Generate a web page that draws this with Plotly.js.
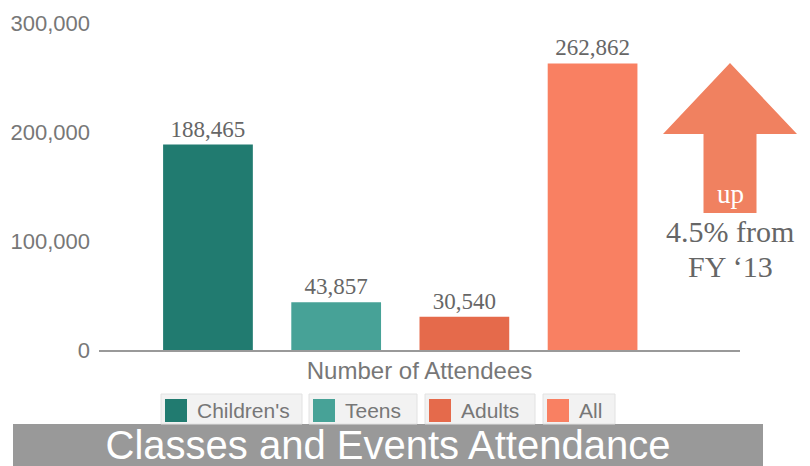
<!DOCTYPE html>
<html>
<head>
<meta charset="utf-8">
<script src="https://cdn.plot.ly/plotly-3.0.1.min.js"></script>
<style>html,body{margin:0;padding:0;background:#fff;}#chart{width:810px;height:466px;}</style>
</head>
<body>
<div id="chart"></div>
<script>
// ---- data ----
const categories = ["Children's", "Teens", "Adults", "All"];
const values = [188465, 43857, 30540, 262862];
const colors = ["#217b70", "#47a297", "#e56a4b", "#f98062"];
const groupLabel = "Number of Attendees";
const yTicks = [0, 100000, 200000, 300000];
const chartTitle = "Classes and Events Attendance";
const noteUp = "up";
const noteLines = ["4.5% from", "FY \u201813"];

// ---- layout helpers (pixel -> paper) ----
const W = 810, H = 466;
const M = {l: 99, r: 70, t: 23, b: 116};
const PW = W - M.l - M.r, PH = H - M.t - M.b;
const px = x => (x - M.l) / PW;
const py = y => (H - M.b - y) / PH;

const traces = categories.map((c, i) => ({
  type: 'bar',
  name: c,
  x: [groupLabel],
  y: [values[i]],
  marker: {color: colors[i]},
  text: [values[i].toLocaleString('en-US')],
  textposition: 'outside',
  textfont: {family: 'Liberation Serif, serif', size: 23, color: '#666666'},
  cliponaxis: false,
  hoverinfo: 'none',
  showlegend: false
}));

const shapes = [];
const annotations = [];

// title bar
shapes.push({type: 'rect', xref: 'paper', yref: 'paper', layer: 'below',
  x0: px(13), x1: px(763), y0: py(466), y1: py(424),
  fillcolor: '#999999', line: {width: 0}});

// arrow
const arrowPath = 'M' + px(730) + ',' + py(63) +
  ' L' + px(797) + ',' + py(134) +
  ' L' + px(756.5) + ',' + py(134) +
  ' L' + px(756.5) + ',' + py(213) +
  ' L' + px(703.5) + ',' + py(213) +
  ' L' + px(703.5) + ',' + py(134) +
  ' L' + px(663) + ',' + py(134) + ' Z';
shapes.push({type: 'path', xref: 'paper', yref: 'paper', path: arrowPath,
  fillcolor: '#f08160', line: {width: 0}});
annotations.push({xref: 'paper', yref: 'paper', x: px(730), y: py(194), text: noteUp,
  showarrow: false, font: {family: 'Liberation Serif, serif', size: 27, color: '#ffffff'},
  xanchor: 'center', yanchor: 'middle'});
noteLines.forEach((t, i) => annotations.push({xref: 'paper', yref: 'paper', x: px(730),
  y: py(231 + i * 35), text: t, showarrow: false,
  font: {family: 'Liberation Serif, serif', size: 30, color: '#666666'},
  xanchor: 'center', yanchor: 'middle'}));

// legend boxes (manual)
const legBoxes = [[161, 302], [309, 417], [425, 535], [543, 615]];
categories.forEach((c, i) => {
  const [b0, b1] = legBoxes[i];
  shapes.push({type: 'rect', xref: 'paper', yref: 'paper', layer: 'below',
    x0: px(b0), x1: px(b1), y0: py(424), y1: py(394),
    fillcolor: '#f2f2f2', line: {color: '#e2e2e2', width: 1}});
  shapes.push({type: 'rect', xref: 'paper', yref: 'paper',
    x0: px(b0 + 4), x1: px(b0 + 26), y0: py(422), y1: py(399),
    fillcolor: colors[i], line: {width: 0}});
  annotations.push({xref: 'paper', yref: 'paper', x: px(b0 + 34), y: py(410.5), text: c,
    showarrow: false, xanchor: 'left', yanchor: 'middle',
    font: {family: 'Liberation Sans, Arial, sans-serif', size: 21, color: '#777777'}});
});

const layout = {
  width: W, height: H,
  margin: M,
  paper_bgcolor: '#ffffff', plot_bgcolor: '#ffffff',
  showlegend: false,
  barmode: 'group', bargap: 0.2, bargroupgap: 0.3,
  title: {text: chartTitle, x: 388 / W, xanchor: 'center', y: 1 - 445 / H, yanchor: 'middle',
    font: {family: 'Liberation Sans, Arial, sans-serif', size: 40, color: '#ffffff'}},
  xaxis: {type: 'category', range: [-0.47, 0.53], showticklabels: false, ticks: '',
    showline: true, linecolor: '#999999', linewidth: 2, showgrid: false, zeroline: false,
    fixedrange: true,
    title: {text: groupLabel, standoff: 11,
      font: {family: 'Liberation Sans, Arial, sans-serif', size: 24, color: '#777777'}}},
  yaxis: {range: [0, 300000], tickvals: yTicks, tickformat: ',', showgrid: false,
    zeroline: false, showline: false, ticks: '', ticklabelstandoff: 8,
    tickfont: {family: 'Liberation Sans, Arial, sans-serif', size: 22, color: '#777777'}},
  shapes: shapes,
  annotations: annotations,
  font: {family: 'Liberation Sans, Arial, sans-serif'}
};

Plotly.newPlot('chart', traces, layout, {staticPlot: true, displayModeBar: false});
</script>
</body>
</html>
